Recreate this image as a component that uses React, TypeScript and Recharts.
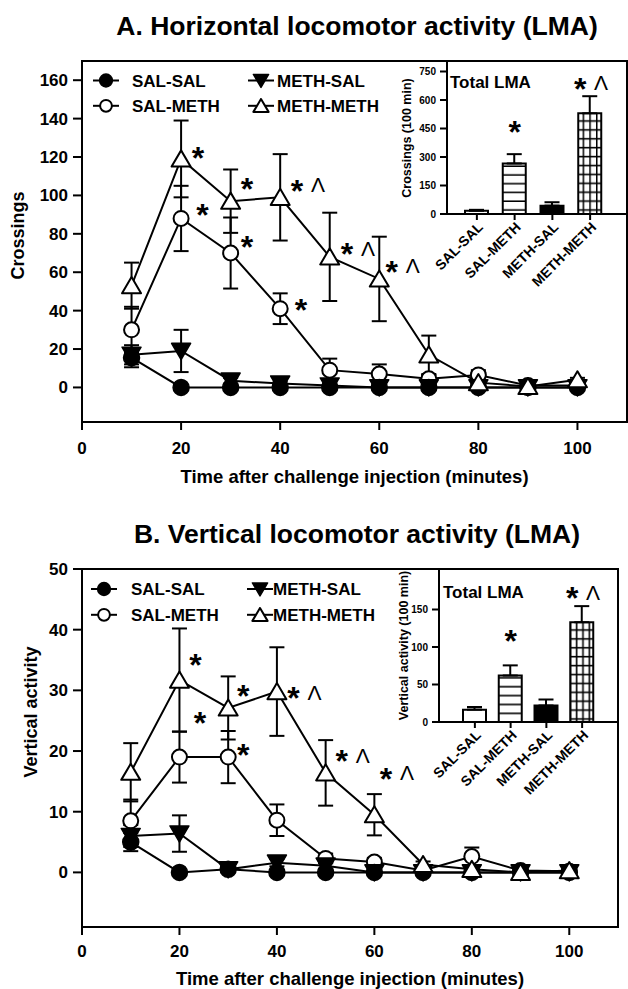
import React from 'react';
import {
  ComposedChart,
  Line,
  XAxis,
  YAxis,
  ErrorBar,
  ReferenceArea,
  ReferenceDot,
  BarChart,
  Bar,
  Cell,
} from 'recharts';

const FONT = '"Liberation Sans", Arial, Helvetica, sans-serif';

// time points (minutes after challenge injection)
const TIMES = [10, 20, 30, 40, 50, 60, 70, 80, 90, 100];
const X_TICKS = [0, 20, 40, 60, 80, 100];
const GROUPS = ['SAL-SAL', 'SAL-METH', 'METH-SAL', 'METH-METH'];

// A. horizontal activity (crossings), mean and SEM
const A_SS = [15.5, 0, 0, 0, 0, 0, 0, 0, 0, 0];
const A_SS_SEM = [5, 0, 0, 0, 0, 0, 0, 0, 0, 0];
const A_SM = [30, 88, 70, 41, 9, 7, 4.5, 6.5, 1, 1];
const A_SM_SEM = [12, 17, 18.5, 8, 6, 5, 2, 2.5, 1, 0.5];
const A_MS = [17, 19, 3.5, 2, 1, 0, 0, 0, 0, 0];
const A_MS_SEM = [5, 11, 1.5, 1, 1, 0, 0, 0.5, 0, 0];
const A_MM = [53, 119, 97, 99, 68, 56.5, 17, 2.5, 0.5, 4];
const A_MM_SEM = [12, 20, 16.5, 22.5, 23, 22, 10, 1, 0.5, 1];
const A_Y_TICKS = [0, 20, 40, 60, 80, 100, 120, 140, 160];
const A_TOTAL = [17, 266, 44, 530];
const A_TOTAL_SEM = [5, 49, 18, 90];
const A_TOTAL_TICKS = [0, 150, 300, 450, 600, 750];

// B. vertical activity, mean and SEM
const B_SS = [5, 0, 0.5, 0, 0, 0, 0, 0, 0, 0];
const B_SS_SEM = [1.5, 0, 0.3, 0, 0, 0, 0, 0, 0, 0];
const B_SM = [8.5, 19, 19, 8.6, 2.3, 1.7, 0.3, 2.6, 0.3, 0.2];
const B_SM_SEM = [3.5, 4.2, 4.3, 2.6, 0.8, 0.7, 0.3, 1.5, 0.3, 0.2];
const B_MS = [6, 6.4, 0.5, 1.6, 1.1, 0, 0, 0, 0, 0];
const B_MS_SEM = [1.8, 3, 0.5, 0.6, 0.5, 0, 0, 0, 0, 0];
const B_MM = [16.5, 31.7, 27.1, 29.8, 16.4, 9.5, 1.3, 0.5, 0, 0.3];
const B_MM_SEM = [4.8, 8.5, 5.2, 7.3, 5.4, 3.4, 0.5, 0.4, 0, 0.2];
const B_Y_TICKS = [0, 10, 20, 30, 40, 50];
const B_TOTAL = [16.5, 62, 22, 133];
const B_TOTAL_SEM = [3.5, 13.5, 8, 21.5];
const B_TOTAL_TICKS = [0, 50, 100, 150];

// significance marks (* vs SAL-SAL, ^ vs SAL-METH)
const A_MARKS = [
  { t: 23.4, v: 122.7, mark: '*' },
  { t: 24.3, v: 92.7, mark: '*' },
  { t: 33.3, v: 106.7, mark: '*' },
  { t: 33.3, v: 76.1, mark: '*' },
  { t: 43.4, v: 105.6, mark: '*^' },
  { t: 44.2, v: 43.5, mark: '*' },
  { t: 53.5, v: 72.5, mark: '*^' },
  { t: 62.5, v: 63.3, mark: '*^' },
];
const B_MARKS = [
  { t: 23.3, v: 35.2, mark: '*' },
  { t: 24.2, v: 25.6, mark: '*' },
  { t: 33.1, v: 30.1, mark: '*' },
  { t: 33.1, v: 20.4, mark: '*' },
  { t: 43.4, v: 29.7, mark: '*^' },
  { t: 53.3, v: 19.3, mark: '*^' },
  { t: 62.4, v: 16.4, mark: '*^' },
];
const A_TOTAL_MARKS = [
  { g: 'SAL-METH', v: 465, mark: '*' },
  { g: 'METH-METH', v: 692, mark: '*^' },
];
const B_TOTAL_MARKS = [
  { g: 'SAL-METH', v: 116, mark: '*' },
  { g: 'METH-METH', v: 173, mark: '*^' },
];

type Kind = 'fillCircle' | 'openCircle' | 'down' | 'up';

const SERIES: { key: string; name: string; kind: Kind }[] = [
  { key: 'sm', name: 'SAL-METH', kind: 'openCircle' },
  { key: 'ss', name: 'SAL-SAL', kind: 'fillCircle' },
  { key: 'ms', name: 'METH-SAL', kind: 'down' },
  { key: 'mm', name: 'METH-METH', kind: 'up' },
];

const BAR_FILLS_A = ['#fff', 'url(#hStripeA)', '#000', 'url(#gridA)'];
const BAR_FILLS_B = ['#fff', 'url(#hStripeB)', '#000', 'url(#gridB)'];

function makeRows(ss: number[], ssE: number[], sm: number[], smE: number[], ms: number[], msE: number[], mm: number[], mmE: number[]) {
  return TIMES.map((t, i) => ({
    t,
    ss: ss[i], ssE: ssE[i],
    sm: sm[i], smE: smE[i],
    ms: ms[i], msE: msE[i],
    mm: mm[i], mmE: mmE[i],
  }));
}

const ROWS_A = makeRows(A_SS, A_SS_SEM, A_SM, A_SM_SEM, A_MS, A_MS_SEM, A_MM, A_MM_SEM);
const ROWS_B = makeRows(B_SS, B_SS_SEM, B_SM, B_SM_SEM, B_MS, B_MS_SEM, B_MM, B_MM_SEM);
const TOTAL_A = GROUPS.map((g, i) => ({ g, v: A_TOTAL[i], e: [0, A_TOTAL_SEM[i]] }));
const TOTAL_B = GROUPS.map((g, i) => ({ g, v: B_TOTAL[i], e: [0, B_TOTAL_SEM[i]] }));

function Marker({ cx, cy, kind, s = 1 }: { cx?: number; cy?: number; kind: Kind; s?: number }) {
  if (cx == null || cy == null) return null;
  const r = 8 * s;
  const h = 9.5 * s;
  if (kind === 'fillCircle') return <circle cx={cx} cy={cy} r={r} fill="#000" stroke="#000" strokeWidth={1.5} />;
  if (kind === 'openCircle') return <circle cx={cx} cy={cy} r={r - 0.5} fill="#fff" stroke="#000" strokeWidth={2} />;
  if (kind === 'down')
    return (
      <polygon
        points={`${cx - h},${cy - h * 0.8} ${cx + h},${cy - h * 0.8} ${cx},${cy + h * 0.9}`}
        fill="#000" stroke="#000" strokeWidth={1.5} strokeLinejoin="round"
      />
    );
  return (
    <polygon
      points={`${cx - h},${cy + h * 0.8} ${cx + h},${cy + h * 0.8} ${cx},${cy - h * 0.9}`}
      fill="#fff" stroke="#000" strokeWidth={2} strokeLinejoin="round"
    />
  );
}

function Stars({ cx, cy, mark, centered }: { cx?: number; cy?: number; mark: string; centered?: boolean }) {
  if (cx == null || cy == null) return null;
  const caret = mark.includes('^');
  const sx = centered && caret ? cx - 10 : cx;
  return (
    <g>
      <text x={sx} y={cy + 17} textAnchor="middle" fontSize={32} fontWeight="bold" fontFamily={FONT} fill="#000">
        *
      </text>
      {caret && (
        <text x={sx + 21} y={cy + 7.5} textAnchor="middle" fontSize={21} fontFamily={FONT} fill="#000">
          Λ
        </text>
      )}
    </g>
  );
}

function LegendBlock({ rows, markX, textX }: { rows: number[]; markX: number[]; textX: number[] }) {
  const order = [
    [SERIES[1], SERIES[2]],
    [SERIES[0], SERIES[3]],
  ];
  return (
    <g>
      {order.map((pair, r) =>
        pair.map((s, c) => (
          <g key={s.key}>
            <line x1={markX[c] - 13} x2={markX[c] + 13} y1={rows[r]} y2={rows[r]} stroke="#000" strokeWidth={2} />
            <Marker cx={markX[c]} cy={rows[r]} kind={s.kind} s={0.8} />
            <text x={textX[c]} y={rows[r] + 6} fontSize={17} fontWeight="bold" fontFamily={FONT} fill="#000">
              {s.name}
            </text>
          </g>
        ))
      )}
    </g>
  );
}

const tickStyle = { fill: '#000', fontSize: 17, fontWeight: 'bold', fontFamily: FONT };
const axisStroke = { stroke: '#000', strokeWidth: 2 };

interface PanelProps {
  rows: typeof ROWS_A;
  height: number;
  top: number;
  right: number;
  xHeight: number;
  xTickMargin: number;
  xLabelOffset: number;
  yDomain: [number, number];
  yTicks: number[];
  yLabel: string;
  yLabelOffset: number;
  yLabelDy: number;
  title: string;
  titleY: number;
  marks: { t: number; v: number; mark: string }[];
  legendRows: number[];
  legendMarkX: number[];
  legendTextX: number[];
}

function TimeCourse(p: PanelProps) {
  return (
    <ComposedChart
      width={628}
      height={p.height}
      data={p.rows}
      margin={{ top: p.top, right: p.right, bottom: 0, left: 0 }}
    >
      <text x={357} y={p.titleY} textAnchor="middle" fontSize={26.5} fontWeight="bold" fontFamily={FONT} fill="#000">
        {p.title}
      </text>
      <XAxis
        dataKey="t"
        type="number"
        domain={[0, 110]}
        ticks={X_TICKS}
        height={p.xHeight}
        tick={tickStyle}
        tickSize={8}
        tickMargin={p.xTickMargin}
        axisLine={axisStroke}
        tickLine={axisStroke}
        label={{
          value: 'Time after challenge injection (minutes)',
          position: 'insideBottom',
          offset: p.xLabelOffset,
          fill: '#000',
          fontSize: 18.5,
          fontWeight: 'bold',
          fontFamily: FONT,
        }}
      />
      <YAxis
        type="number"
        domain={p.yDomain}
        ticks={p.yTicks}
        width={82}
        tick={tickStyle}
        tickSize={9}
        tickMargin={5}
        axisLine={axisStroke}
        tickLine={axisStroke}
        label={{
          value: p.yLabel,
          angle: -90,
          position: 'insideLeft',
          offset: p.yLabelOffset,
          dy: p.yLabelDy,
          style: { textAnchor: 'middle' },
          fill: '#000',
          fontSize: 18,
          fontWeight: 'bold',
          fontFamily: FONT,
        }}
      />
      <ReferenceArea
        x1={0}
        x2={110}
        y1={p.yDomain[0]}
        y2={p.yDomain[1]}
        fill="none"
        fillOpacity={0}
        stroke="#000"
        strokeWidth={2}
        ifOverflow="visible"
      />
      {SERIES.map((s) => (
        <Line
          key={s.key}
          dataKey={s.key}
          name={s.name}
          stroke="#000"
          strokeWidth={2}
          isAnimationActive={false}
          dot={(d: any) => <Marker key={`${s.key}-${d.index}`} cx={d.cx} cy={d.cy} kind={s.kind} />}
          activeDot={false}
        >
          <ErrorBar dataKey={`${s.key}E`} width={7.5} stroke="#000" strokeWidth={2} direction="y" />
        </Line>
      ))}
      {p.marks.map((m, i) => (
        <ReferenceDot
          key={i}
          x={m.t}
          y={m.v}
          r={0}
          ifOverflow="visible"
          shape={(d: any) => <Stars cx={d.cx} cy={d.cy} mark={m.mark} />}
        />
      ))}
      <LegendBlock rows={p.legendRows} markX={p.legendMarkX} textX={p.legendTextX} />
    </ComposedChart>
  );
}

function SlantTick({ x, y, payload }: any) {
  return (
    <text
      transform={`translate(${x + 7},${y + 6}) rotate(-45)`}
      textAnchor="end"
      fontSize={14}
      fontWeight="bold"
      fontFamily={FONT}
      fill="#000"
    >
      {payload.value}
    </text>
  );
}

interface InsetProps {
  id: string;
  data: typeof TOTAL_A;
  fills: string[];
  width: number;
  yWidth: number;
  plotHeight: number;
  domain: [number, number];
  ticks: number[];
  label: string;
  labelOffset: number;
  padding: { left: number; right: number };
  barSize: number;
  stripe: { h: number; y: number };
  grid: { w: number; h: number; x: number; y: number };
  marks: { g: string; v: number; mark: string }[];
  totalX: number;
  totalY: number;
}

function TotalInset(p: InsetProps) {
  return (
    <BarChart width={p.width} height={p.plotHeight + 95} data={p.data} margin={{ top: 0, right: 0, bottom: 0, left: 0 }}>
      <defs>
        <pattern id={`hStripe${p.id}`} patternUnits="userSpaceOnUse" width={10} height={p.stripe.h}>
          <rect width={10} height={p.stripe.h} fill="#fff" />
          <line x1={0} x2={10} y1={p.stripe.y} y2={p.stripe.y} stroke="#000" strokeWidth={1.6} />
        </pattern>
        <pattern id={`grid${p.id}`} patternUnits="userSpaceOnUse" width={p.grid.w} height={p.grid.h}>
          <rect width={p.grid.w} height={p.grid.h} fill="#fff" />
          <line x1={0} x2={p.grid.w} y1={p.grid.y} y2={p.grid.y} stroke="#000" strokeWidth={1.6} />
          <line x1={p.grid.x} x2={p.grid.x} y1={0} y2={p.grid.h} stroke="#000" strokeWidth={1.6} />
        </pattern>
      </defs>
      <text x={p.totalX} y={p.totalY} fontSize={17} fontWeight="bold" fontFamily={FONT} fill="#000">
        Total LMA
      </text>
      <XAxis
        dataKey="g"
        type="category"
        height={95}
        padding={p.padding}
        tick={<SlantTick />}
        tickSize={6}
        tickMargin={2}
        interval={0}
        axisLine={axisStroke}
        tickLine={axisStroke}
      />
      <YAxis
        type="number"
        domain={p.domain}
        ticks={p.ticks}
        width={p.yWidth}
        tick={{ fill: '#000', fontSize: 10, fontWeight: 'bold', fontFamily: FONT }}
        tickSize={7}
        tickMargin={4}
        axisLine={axisStroke}
        tickLine={axisStroke}
        label={{
          value: p.label,
          angle: -90,
          position: 'insideLeft',
          offset: p.labelOffset,
          style: { textAnchor: 'middle' },
          fill: '#000',
          fontSize: 12.5,
          fontWeight: 'bold',
          fontFamily: FONT,
        }}
      />
      <Bar dataKey="v" barSize={p.barSize} stroke="#000" strokeWidth={2} isAnimationActive={false}>
        {p.data.map((d, i) => (
          <Cell key={d.g} fill={p.fills[i]} />
        ))}
        <ErrorBar dataKey="e" width={7.5} stroke="#000" strokeWidth={2} direction="y" />
      </Bar>
      {p.marks.map((m, i) => (
        <ReferenceDot
          key={i}
          x={m.g}
          y={m.v}
          r={0}
          ifOverflow="visible"
          shape={(d: any) => <Stars cx={d.cx} cy={d.cy} mark={m.mark} centered />}
        />
      ))}
    </BarChart>
  );
}

export default function App() {
  return (
    <div style={{ position: 'absolute', left: 0, top: 0, width: 628, height: 989, background: '#fff', overflow: 'hidden' }}>
      <div style={{ position: 'absolute', left: 0, top: 0 }}>
        <TimeCourse
          rows={ROWS_A}
          height={490}
          top={61}
          right={1}
          xHeight={68}
          xTickMargin={12}
          xLabelOffset={7}
          yDomain={[-18, 170]}
          yTicks={A_Y_TICKS}
          yLabel="Crossings"
          yLabelOffset={18}
          yLabelDy={-6}
          title="A. Horizontal locomotor activity (LMA)"
          titleY={35}
          marks={A_MARKS}
          legendRows={[80.5, 105.8]}
          legendMarkX={[106, 261]}
          legendTextX={[132, 277]}
        />
      </div>
      <div style={{ position: 'absolute', left: 0, top: 490 }}>
        <TimeCourse
          rows={ROWS_B}
          height={499}
          top={79}
          right={10}
          xHeight={62}
          xTickMargin={10}
          xLabelOffset={4}
          yDomain={[-9, 50]}
          yTicks={B_Y_TICKS}
          yLabel="Vertical activity"
          yLabelOffset={31}
          yLabelDy={-36}
          title="B. Vertical locomotor activity (LMA)"
          titleY={53}
          marks={B_MARKS}
          legendRows={[99, 124.8]}
          legendMarkX={[104, 260]}
          legendTextX={[131, 273]}
        />
      </div>
      <div style={{ position: 'absolute', left: 395, top: 62 }}>
        <TotalInset
          id="A"
          data={TOTAL_A}
          fills={BAR_FILLS_A}
          width={232}
          yWidth={52}
          plotHeight={152}
          domain={[0, 800]}
          ticks={A_TOTAL_TICKS}
          label="Crossings (100 min)"
          labelOffset={12}
          padding={{ left: 11, right: 18 }}
          barSize={23}
          stripe={{ h: 8.75, y: 8 }}
          grid={{ w: 6.7, h: 8.9, x: 0.7, y: 5.6 }}
          marks={A_TOTAL_MARKS}
          totalX={55}
          totalY={26}
        />
      </div>
      <div style={{ position: 'absolute', left: 389, top: 569 }}>
        <TotalInset
          id="B"
          data={TOTAL_B}
          fills={BAR_FILLS_B}
          width={229}
          yWidth={50}
          plotHeight={153}
          domain={[0, 204]}
          ticks={B_TOTAL_TICKS}
          label="Vertical activity (100 min)"
          labelOffset={15}
          padding={{ left: 18, right: 18 }}
          barSize={23}
          stripe={{ h: 8.9, y: 2 }}
          grid={{ w: 6.3, h: 8.9, x: 5, y: 7.6 }}
          marks={B_TOTAL_MARKS}
          totalX={54}
          totalY={29}
        />
      </div>
    </div>
  );
}
